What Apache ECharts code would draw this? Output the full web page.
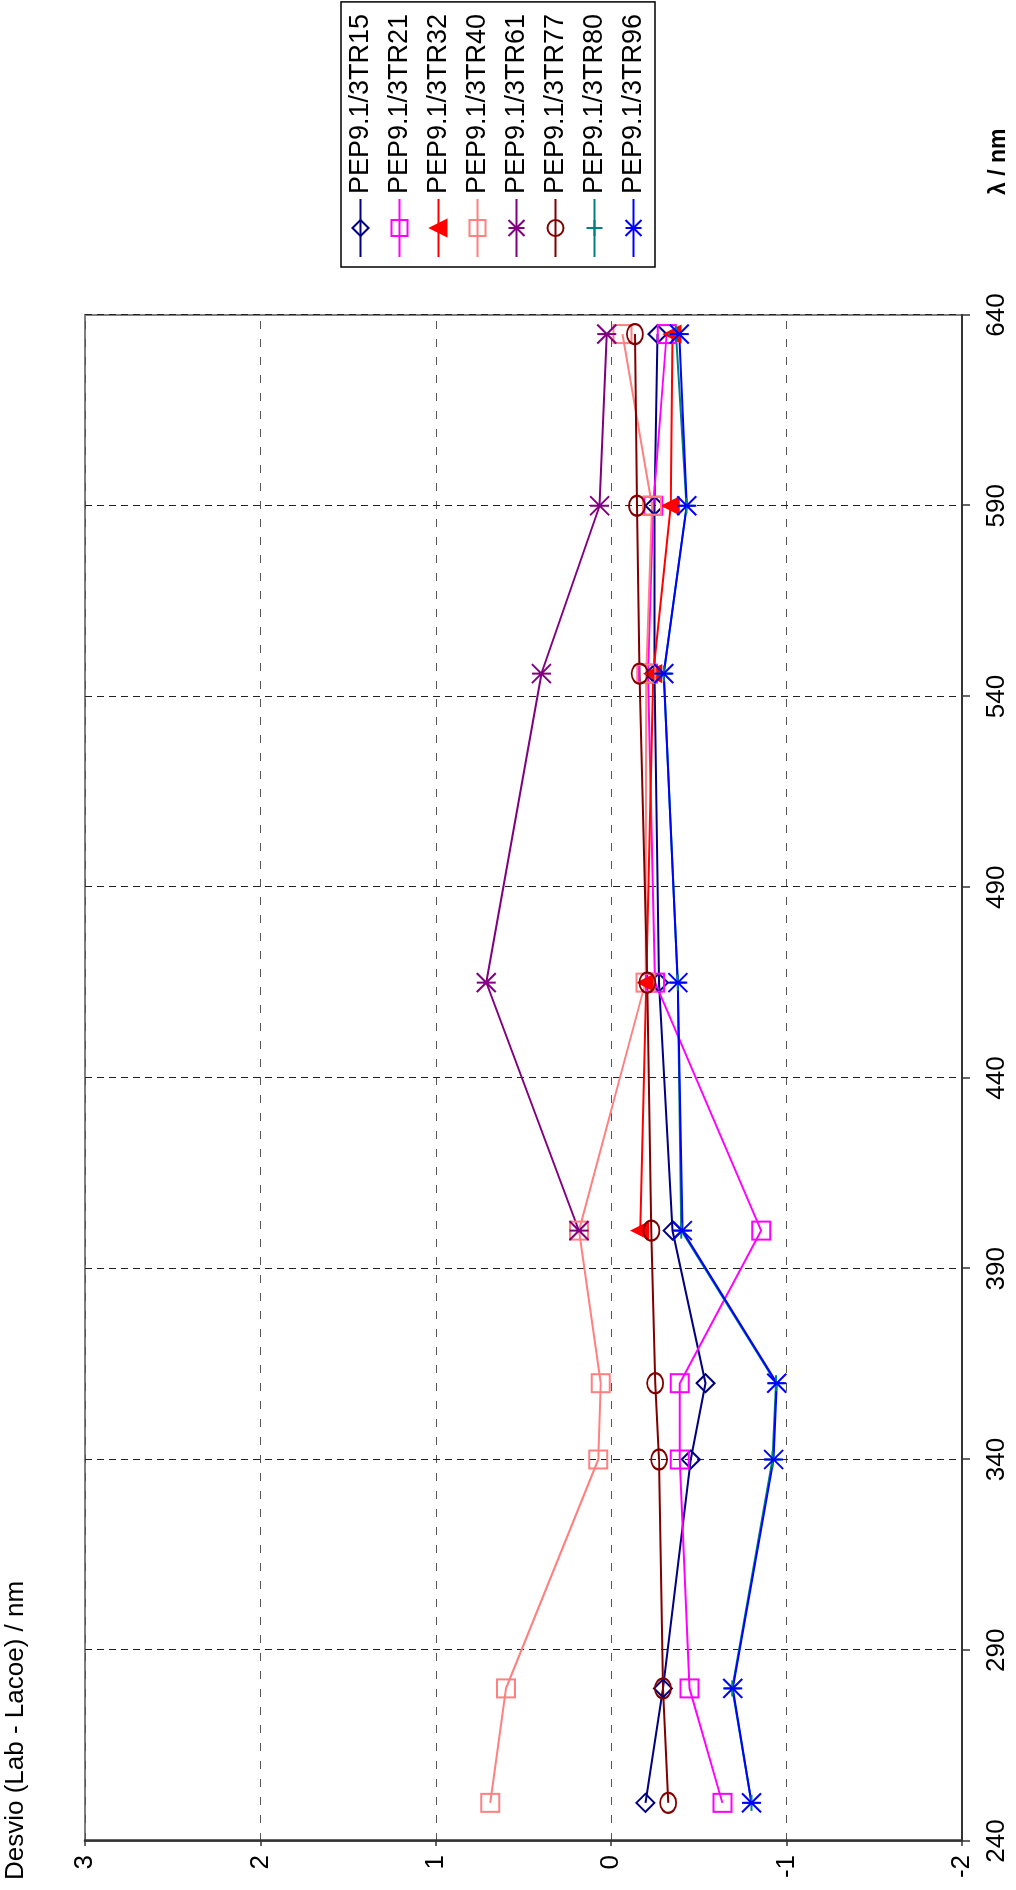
<!DOCTYPE html>
<html>
<head>
<meta charset="utf-8">
<script src="https://cdn.jsdelivr.net/npm/echarts@6/dist/echarts.min.js"></script>
<style>
  html, body { margin: 0; padding: 0; background: #fff; overflow: hidden; }
  #page { position: relative; width: 1016px; height: 1890px; overflow: hidden; }
  /* the chart is laid out landscape and turned a quarter turn counter-clockwise */
  #chart {
    position: absolute; left: 0; top: 0;
    width: 1890px; height: 1016px;
    transform-origin: 0 0;
    transform: translate(0, 1890px) rotate(-90deg);
  }
</style>
</head>
<body>
<div id="page"><div id="chart"></div></div>
<script>
// wavelengths (nm)
const lambda = [250, 280, 340, 360, 400, 465, 546, 590, 635];

// deviation Lab - Lacoe (nm) per filter
const tr15 = [-0.195, -0.295, -0.454, -0.538, -0.350, -0.272, -0.247, -0.247, -0.264];
const tr21 = [-0.634, -0.446, -0.391, -0.391, -0.855, -0.250, -0.210, -0.240, -0.316];
const tr32 = [null, null, null, null, -0.166, -0.200, -0.240, -0.340, -0.350];
const tr40 = [0.690, 0.600, 0.074, 0.059, 0.184, -0.195, -0.200, -0.232, -0.064];
const tr61 = [null, null, null, null, 0.184, 0.712, 0.398, 0.066, 0.025];
const tr77 = [-0.325, -0.295, -0.273, -0.251, -0.229, -0.206, -0.162, -0.147, -0.135];
const tr80 = [-0.800, -0.690, -0.920, -0.940, -0.400, -0.380, -0.300, -0.430, -0.370];
const tr96 = [-0.800, -0.693, -0.926, -0.944, -0.406, -0.380, -0.300, -0.431, -0.388];

const seriesNames = ['PEP9.1/3TR15', 'PEP9.1/3TR21', 'PEP9.1/3TR32', 'PEP9.1/3TR40',
                     'PEP9.1/3TR61', 'PEP9.1/3TR77', 'PEP9.1/3TR80', 'PEP9.1/3TR96'];

const xTicks = { min: 240, max: 640, step: 50 };
const yTicks = { min: -2, max: 3, step: 1 };

const FONT = "'Liberation Sans', Arial, sans-serif";
const ASTERISK = 'path://M0,0L10,10M10,0L0,10M5,0L5,10';
const PLUS = 'path://M5,0L5,10M0,5L10,5';

function pairs(vals) {
  return lambda.map((l, i) => [l, vals[i]]);
}

function makeSeries(name, vals, color, symbol, size, filled) {
  return {
    name: name,
    type: 'line',
    data: pairs(vals),
    symbol: symbol,
    symbolSize: size,
    showAllSymbol: true,
    connectNulls: false,
    lineStyle: { color: color, width: 2 },
    itemStyle: {
      color: filled ? color : 'transparent',
      borderColor: color,
      borderWidth: 2
    },
    emphasis: { disabled: true },
    animation: false
  };
}

const series = [
  makeSeries(seriesNames[0], tr15, '#000080', 'diamond', [18, 18], false),
  makeSeries(seriesNames[1], tr21, '#FF00FF', 'rect', [18, 18], false),
  makeSeries(seriesNames[2], tr32, '#FF0000', 'triangle', [16, 16], true),
  makeSeries(seriesNames[3], tr40, '#FF8080', 'rect', [18, 18], false),
  makeSeries(seriesNames[4], tr61, '#800080', ASTERISK, [19, 19], false),
  makeSeries(seriesNames[5], tr77, '#800000', 'circle', [20, 16], false),
  makeSeries(seriesNames[6], tr80, '#008080', PLUS, [16, 16], false),
  makeSeries(seriesNames[7], tr96, '#0000FF', ASTERISK, [19, 19], false)
];

const chart = echarts.init(document.getElementById('chart'), null, {
  renderer: 'canvas', width: 1890, height: 1016
});

chart.setOption({
  animation: false,
  backgroundColor: '#ffffff',
  textStyle: { fontFamily: FONT },
  grid: {
    left: 49, right: 315, top: 85, bottom: 54,
    show: true, borderColor: '#808080', borderWidth: 2,
    backgroundColor: 'transparent'
  },
  xAxis: {
    type: 'value',
    min: xTicks.min, max: xTicks.max, interval: xTicks.step,
    axisLine: { show: true, onZero: false, lineStyle: { color: '#333', width: 2 } },
    axisTick: { show: true, length: 8, lineStyle: { color: '#333', width: 1.5 } },
    axisLabel: { fontSize: 26, color: '#000', margin: 22, fontFamily: FONT },
    splitLine: { show: true, lineStyle: { color: '#222', width: 1, type: [7, 5] } }
  },
  yAxis: {
    type: 'value',
    min: yTicks.min, max: yTicks.max, interval: yTicks.step,
    axisLine: { show: true, onZero: false, lineStyle: { color: '#333', width: 2.5 } },
    axisTick: { show: true, length: 5, lineStyle: { color: '#333', width: 1.5 } },
    axisLabel: { fontSize: 26, color: '#000', margin: 14, fontFamily: FONT },
    splitLine: { show: true, lineStyle: { color: '#555', width: 1, type: [8, 10] } }
  },
  legend: {
    show: true,
    orient: 'vertical',
    left: 1623, top: 341,
    padding: [6, 12, 8, 9],
    itemWidth: 58, itemHeight: 20, itemGap: 12,
    borderColor: '#000', borderWidth: 1.5, backgroundColor: '#fff',
    textStyle: { fontSize: 27, color: '#000', fontFamily: FONT },
    data: seriesNames,
    selectedMode: false
  },
  graphic: [
    {
      type: 'text', left: 10, top: 3,
      style: { text: 'Desvio (Lab - Lacoe) / nm', fontSize: 26, fontFamily: FONT, fill: '#000' }
    },
    {
      type: 'text', left: 1695, top: 987,
      style: { text: 'λ / nm', fontSize: 23, fontWeight: 'bold', fontFamily: FONT, fill: '#000' }
    }
  ],
  series: series
});
</script>
</body>
</html>
